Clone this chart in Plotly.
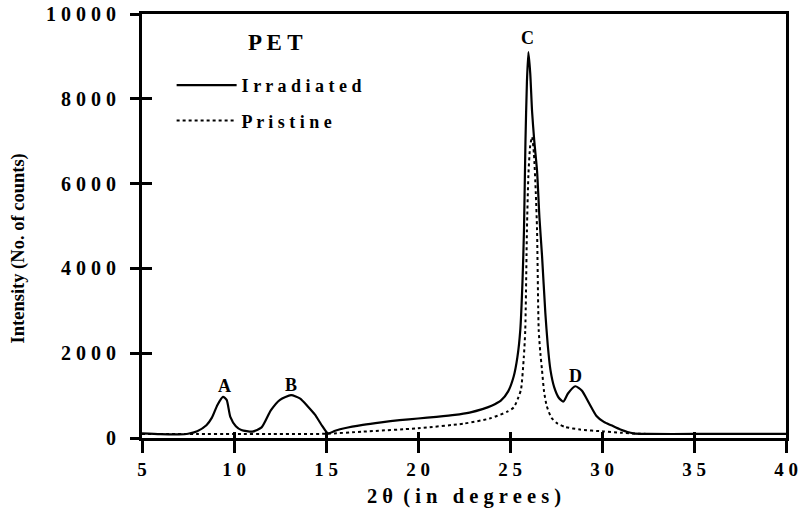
import plotly.graph_objects as go

# ---- data ----
irradiated_x = [5.0, 6.0, 7.0, 7.5, 8.0, 8.5, 8.8, 9.1, 9.4, 9.6, 9.8, 10.1, 10.4, 11.0, 11.5, 12.0,
                12.5, 13.1, 13.6, 14.0, 14.4, 14.8, 15.1, 15.5, 16.0, 17.0, 18.0, 19.0, 20.0, 21.0,
                22.0, 22.8, 23.5, 24.0, 24.5, 24.9, 25.2, 25.4, 25.56, 25.68, 25.76, 25.84, 25.92,
                26.0, 26.1, 26.2, 26.32, 26.47, 26.6, 26.74, 26.92, 27.05, 27.2, 27.4, 27.65, 27.9,
                28.15, 28.55, 28.9, 29.3, 29.7, 30.1, 30.5, 31.0, 31.7, 32.5, 35.0, 40.0]
irradiated_y = [110, 90, 85, 100, 160, 300, 480, 780, 970, 900, 500, 280, 190, 150, 250, 650,
                900, 1010, 930, 750, 550, 280, 110, 170, 230, 310, 370, 420, 460, 500,
                545, 600, 680, 760, 880, 1100, 1450, 1900, 2550, 3700, 4900, 7000, 8400,
                9100, 8600, 7700, 7000, 6300, 5200, 4300, 2950, 2200, 1600, 1200, 950, 860,
                1050, 1220, 1120, 820, 520, 380, 300, 200, 110, 95, 95, 95]

pristine_x = [5.0, 8.0, 10.0, 12.0, 15.0, 17.0, 20.0, 22.5, 23.9, 24.85, 25.2, 25.45, 25.6, 25.75,
              25.83, 25.92, 26.0, 26.1, 26.2, 26.3, 26.4, 26.47, 26.56, 26.65, 26.74, 26.85, 27.0,
              27.25, 27.55, 28.0, 28.8, 30.07, 31.0, 32.0, 35.0, 40.0]
pristine_y = [95, 95, 95, 95, 100, 150, 230, 340, 460, 620, 720, 950, 1150, 1900,
              2550, 4900, 6200, 6900, 7100, 6700, 5800, 4900, 2550, 2000, 1600, 1100, 750,
              480, 350, 260, 200, 155, 125, 100, 95, 95]

peak_labels = ["A", "B", "C", "D"]
peak_label_x = [9.5, 13.1, 25.95, 28.55]
peak_label_y = [1230, 1260, 9440, 1470]

x_ticks = [5, 10, 15, 20, 25, 30, 35, 40]
y_ticks = [0, 2000, 4000, 6000, 8000, 10000]


def spaced(s):
    return " ".join(list(s))


def bold(s):
    return "<b>%s</b>" % s


FONT = "Liberation Serif"

fig = go.Figure()
fig.add_trace(go.Scatter(
    x=irradiated_x, y=irradiated_y, mode="lines", name=bold(spaced("Irradiated")),
    line=dict(color="black", width=2.2, shape="spline", smoothing=0.6),
    legendgroup="a"))
fig.add_trace(go.Scatter(
    x=pristine_x, y=pristine_y, mode="lines", name=bold(spaced("Pristine")),
    line=dict(color="black", width=2, dash="dot", shape="spline", smoothing=0.6),
    legendgroup="b"))
# overlay axes carrying the inner halves of the tick marks
fig.add_trace(go.Scatter(x=[None], y=[None], xaxis="x2", yaxis="y2", showlegend=False,
                         hoverinfo="skip"))

for t, xv, yv in zip(peak_labels, peak_label_x, peak_label_y):
    fig.add_annotation(x=xv, y=yv, text=bold(t), showarrow=False,
                       font=dict(family=FONT, size=18, color="black"))

fig.add_annotation(xref="paper", yref="paper", x=0.208, y=0.932, xanchor="center",
                   yanchor="middle", text=bold("P E T"),
                   showarrow=False, font=dict(family=FONT, size=23, color="black"))

# y-axis title (placed as in the reference, slightly below the axis centre)
fig.add_annotation(xref="paper", yref="paper", x=-0.192, y=0.448, xanchor="center",
                   yanchor="middle", textangle=-90, text=bold("Intensity (No. of counts)"),
                   showarrow=False, font=dict(family=FONT, size=18.5, color="black"))

axis_common = dict(showgrid=False, zeroline=False, color="black", automargin=False)

fig.update_layout(
    width=800, height=521,
    paper_bgcolor="white", plot_bgcolor="white",
    margin=dict(l=142, r=14, t=14, b=83),
    font=dict(family=FONT, color="black", size=18),
    showlegend=True,
    legend=dict(x=0.046, y=0.875, xanchor="left", yanchor="top",
                bgcolor="rgba(0,0,0,0)", borderwidth=0,
                font=dict(family=FONT, size=18, color="black"),
                itemwidth=60, tracegroupgap=9, traceorder="grouped"),
    xaxis=dict(**axis_common, range=[5, 40], tickvals=x_ticks,
               ticktext=[bold(spaced(str(v))) for v in x_ticks],
               showline=True, linewidth=3, linecolor="black", mirror=True,
               ticks="outside", ticklen=12, tickwidth=3, tickcolor="black",
               tickfont=dict(family=FONT, size=19, color="black"),
               ticklabelstandoff=0,
               title=dict(text=bold("2 \u03b8  ( i n   d e g r e e s )"),
                          font=dict(family=FONT, size=20.5, color="black"), standoff=10)),
    yaxis=dict(**axis_common, range=[0, 10000], tickvals=y_ticks,
               ticktext=[bold(spaced(str(v))) for v in y_ticks],
               showline=True, linewidth=3, linecolor="black", mirror=True,
               ticks="outside", ticklen=9, tickwidth=3, tickcolor="black",
               tickfont=dict(family=FONT, size=20, color="black"),
               ticklabelstandoff=10),
    xaxis2=dict(**axis_common, range=[5, 40], tickvals=x_ticks, overlaying="x", anchor="y",
                side="bottom", showticklabels=False, showline=False,
                ticks="inside", ticklen=6, tickwidth=3, tickcolor="black"),
    yaxis2=dict(**axis_common, range=[0, 10000], tickvals=y_ticks, overlaying="y", anchor="x",
                side="left", showticklabels=False, showline=False,
                ticks="inside", ticklen=10, tickwidth=3, tickcolor="black"),
)

fig.write_html("out.html", config={"displayModeBar": False},
               post_script="document.body.style.margin='0px';")
